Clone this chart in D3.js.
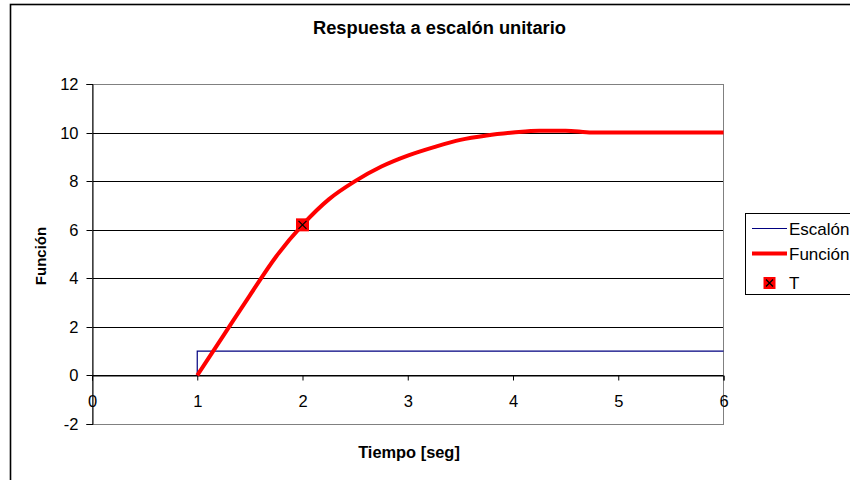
<!DOCTYPE html>
<html>
<head>
<meta charset="utf-8">
<script src="https://cdn.jsdelivr.net/npm/d3@7"></script>
<style>
  html, body { margin: 0; padding: 0; background: #fff; }
  svg { display: block; }
  text { font-family: "Liberation Sans", Arial, sans-serif; fill: #000; }
</style>
</head>
<body>
<svg id="chart" width="850" height="480"></svg>
<script>
// Step input (Escalón)
const stepT = [1, 1, 6];
const stepV = [0, 1, 1];

// System response (Función)
const respT = [1, 1.25, 1.5, 1.75, 2, 2.25, 2.5, 2.75, 3, 3.25, 3.5, 3.75, 4, 4.25, 4.5, 4.75, 5, 5.25, 5.5, 5.75, 6];
const respV = [0, 1.65, 3.3, 4.9, 6.2, 7.25, 8.0, 8.6, 9.05, 9.4, 9.7, 9.88, 10.0, 10.08, 10.08, 10.0, 10.0, 10.0, 10.0, 10.0, 10.0];

// Time constant marker (T)
const markT = [2];
const markV = [6.2];

const xTicks = [0, 1, 2, 3, 4, 5, 6];
const yTicks = [-2, 0, 2, 4, 6, 8, 10, 12];

const titleText = "Respuesta a escalón unitario";
const xTitle = "Tiempo [seg]";
const yTitle = "Función";
const seriesNames = ["Escalón", "Función", "T"];

const svg = d3.select("#chart");

// Outer chart frame
svg.append("rect")
  .attr("x", 10.5).attr("y", 4.5)
  .attr("width", 1000).attr("height", 1000)
  .attr("fill", "#fff").attr("stroke", "#000").attr("stroke-width", 1.6);

const plot = { left: 92, right: 723.5, top: 84, bottom: 424 };

const x = d3.scaleLinear().domain([0, 6]).range([plot.left, plot.right]);
const y = d3.scaleLinear().domain([-2, 12]).range([plot.bottom, plot.top]);

// Horizontal gridlines
svg.append("g")
  .selectAll("line")
  .data(yTicks.filter(v => v > -2 && v < 12))
  .join("line")
  .attr("x1", plot.left).attr("x2", plot.right)
  .attr("y1", d => Math.round(y(d)) + 0.5).attr("y2", d => Math.round(y(d)) + 0.5)
  .attr("stroke", "#000").attr("stroke-width", 1);

// Plot area border
svg.append("rect")
  .attr("x", plot.left + 0.5).attr("y", plot.top + 0.5)
  .attr("width", plot.right - plot.left - 0.5).attr("height", plot.bottom - plot.top)
  .attr("fill", "none").attr("stroke", "#808080").attr("stroke-width", 1);

const fmt = d => String(d);

// Y axis
const yAxis = svg.append("g")
  .attr("transform", `translate(${plot.left + 0.5},0)`)
  .call(d3.axisLeft(y).tickValues(yTicks).tickSize(6).tickPadding(8).tickFormat(fmt));
yAxis.selectAll("text").style("font-size", "16.5px").attr("fill", "#000");
yAxis.selectAll("line").attr("stroke", "#000");
yAxis.select(".domain").attr("stroke", "#000");
yAxis.selectAll(".tick").attr("transform", d => `translate(0,${Math.round(y(d)) + 0.5})`);

// X axis crossing at zero
const xAxis = svg.append("g")
  .attr("transform", `translate(0,${Math.round(y(0)) + 0.5})`)
  .call(d3.axisBottom(x).tickValues(xTicks).tickSize(5).tickPadding(15).tickFormat(fmt));
xAxis.selectAll("text").style("font-size", "16.5px").attr("fill", "#000");
xAxis.selectAll("line").attr("stroke", "#000");
xAxis.select(".domain").attr("stroke", "#000");

// Escalón series
const stepData = stepT.map((t, i) => [t, stepV[i]]);
svg.append("path")
  .datum(stepData)
  .attr("d", d3.line().x(d => x(d[0])).y(d => y(d[1])))
  .attr("fill", "none").attr("stroke", "#000080").attr("stroke-width", 1.2);

// Función series (smoothed line)
const respData = respT.map((t, i) => [t, respV[i]]);
svg.append("path")
  .datum(respData)
  .attr("d", d3.line().x(d => x(d[0])).y(d => y(d[1])).curve(d3.curveMonotoneX))
  .attr("fill", "none").attr("stroke", "#ff0000").attr("stroke-width", 4)
  .attr("stroke-linejoin", "round");

// Marker: red square with black cross
function drawMarker(g, cx, cy, s) {
  const h = s / 2, k = h - 2.5;
  g.append("rect").attr("x", cx - h).attr("y", cy - h).attr("width", s).attr("height", s).attr("fill", "#ff0000");
  g.append("path")
    .attr("d", `M${cx - k},${cy - k}L${cx + k},${cy + k}M${cx - k},${cy + k}L${cx + k},${cy - k}`)
    .attr("stroke", "#000").attr("stroke-width", 1.3).attr("fill", "none");
}
const markG = svg.append("g");
markT.forEach((t, i) => drawMarker(markG, x(t), y(markV[i]), 13));

// Titles
svg.append("text")
  .attr("x", 439.5).attr("y", 34)
  .attr("text-anchor", "middle")
  .style("font-size", "18.3px").style("font-weight", "bold")
  .text(titleText);

svg.append("text")
  .attr("x", 409).attr("y", 458)
  .attr("text-anchor", "middle")
  .style("font-size", "16.4px").style("font-weight", "bold")
  .text(xTitle);

svg.append("text")
  .attr("transform", `translate(46,256) rotate(-90)`)
  .attr("text-anchor", "middle")
  .style("font-size", "15px").style("font-weight", "bold")
  .text(yTitle);

// Legend
const leg = svg.append("g");
leg.append("rect")
  .attr("x", 745.5).attr("y", 213.5).attr("width", 140).attr("height", 81)
  .attr("fill", "#fff").attr("stroke", "#000").attr("stroke-width", 1);
const legY = [228.5, 253.5, 283];
leg.append("line").attr("x1", 752).attr("x2", 787).attr("y1", legY[0]).attr("y2", legY[0])
  .attr("stroke", "#000080").attr("stroke-width", 1.2);
leg.append("line").attr("x1", 752).attr("x2", 787).attr("y1", legY[1]).attr("y2", legY[1])
  .attr("stroke", "#ff0000").attr("stroke-width", 4);
drawMarker(leg, 769.5, legY[2], 12);
leg.selectAll("text.lab")
  .data(seriesNames)
  .join("text")
  .attr("class", "lab")
  .attr("x", 789).attr("y", (d, i) => legY[i] + 6)
  .style("font-size", "17px")
  .text(d => d);
</script>
</body>
</html>
